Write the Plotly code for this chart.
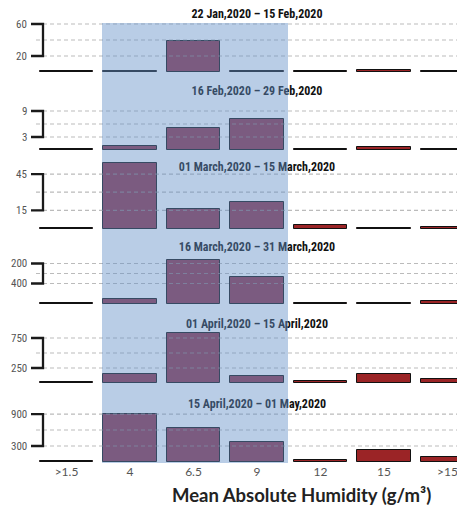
import plotly.graph_objects as go

# ---------------- data ----------------
categories = [">1.5", "4", "6.5", "9", "12", "15", ">15"]
period_titles = [
    "22 Jan,2020 – 15 Feb,2020",
    "16 Feb,2020 – 29 Feb,2020",
    "01 March,2020 – 15 March,2020",
    "16 March,2020 – 31 March,2020",
    "01 April,2020 – 15 April,2020",
    "15 April,2020 – 01 May,2020",
]
cases_p1 = [1, 1, 39, 1, 1, 2, 1]
cases_p2 = [0.25, 0.9, 5.1, 7.2, 0.25, 0.6, 0.25]
cases_p3 = [0.8, 54, 16, 22, 3, 0.8, 1.5]
cases_p4 = [6, 45, 440, 262, 8, 6, 25]
cases_p5 = [12, 145, 840, 110, 40, 145, 65]
cases_p6 = [18, 900, 632, 370, 40, 225, 100]
tick_values = [[20, 60], [3, 9], [15, 45], [200, 400], [250, 750], [300, 900]]
tick_labels = [["20", "60"], ["3", "9"], ["15", "45"], ["400", "200"], ["250", "750"], ["300", "900"]]
x_title = "Mean Absolute Humidity (g/m³)"

series = [cases_p1, cases_p2, cases_p3, cases_p4, cases_p5, cases_p6]

# ---------------- layout geometry (reference pixels) ----------------
WIN_W, WIN_H = 465, 508
OFF = 8                      # default page body margin
W, H = WIN_W - OFF, WIN_H - OFF

col0_px, step_px = 66.5, 63.5
x_lo = -(col0_px - OFF) / step_px
x_hi = (WIN_W - col0_px) / step_px

base_px = [72, 150, 228.5, 303.5, 383, 462]          # pixel row of zero
scale_px = [0.8, 4.333, 1.21, 0.1, 0.06, 0.0533]       # pixels per unit
dom_px = [(9, 78), (80, 156), (158, 234), (236, 310), (312, 389), (391, 463)]
title_px = [15, 92, 168, 248, 325, 405]
shaded_cols = {1, 2, 3}

NARROW = "Liberation Sans Narrow, Roboto Condensed, Arial Narrow, Roboto, sans-serif"

def py(p):
    return 1 - (p - OFF) / H

def px_x(p):
    return (p - OFF) / W

fig = go.Figure()
layout_axes = {}
shapes = []
annotations = []

for i, vals in enumerate(series):
    ax = "y" if i == 0 else f"y{i+1}"
    axkey = "yaxis" if i == 0 else f"yaxis{i+1}"
    p0, s = base_px[i], scale_px[i]
    top, bot = dom_px[i]
    layout_axes[axkey] = dict(
        domain=[py(bot), py(top)],
        range=[(p0 - bot) / s, (p0 - top) / s],
        anchor="x", showgrid=False, zeroline=False, showticklabels=False,
        showline=False, ticks="", fixedrange=True,
    )
    colors = ["rgb(142,49,69)" if j in shaded_cols else "rgb(155,36,38)" for j in range(len(vals))]
    fig.add_trace(go.Bar(
        x=list(range(len(categories))), y=vals, yaxis=ax, xaxis="x",
        width=0.835, marker=dict(color=colors, line=dict(color="#111111", width=1)),
        showlegend=False, hoverinfo="skip",
    ))
    fig.add_trace(go.Scatter(
        x=[3], y=[(p0 - title_px[i]) / s], yaxis=ax, xaxis="x", mode="text",
        text=[period_titles[i]], cliponaxis=False,
        textfont=dict(family=NARROW, size=12, color="#111111", weight="bold"),
        showlegend=False, hoverinfo="skip",
    ))
    lo, hi = tick_values[i]
    for v in [lo, (lo + hi) / 2, hi]:
        shapes.append(dict(
            type="line", xref="paper", yref=ax, x0=px_x(36), x1=1, y0=v, y1=v,
            line=dict(color="rgba(150,150,150,0.65)", width=1.2, dash="4px,3px"),
            layer="above",
        ))
    xl, xr = px_x(31), px_x(43)
    shapes.append(dict(
        type="path", xref="paper", yref=ax,
        path=f"M {xl},{hi} L {xr},{hi} L {xr},{lo} L {xl},{lo}",
        line=dict(color="#1a1a1a", width=2.3), layer="above",
    ))
    for v, t in zip(tick_values[i], tick_labels[i]):
        annotations.append(dict(
            xref="paper", yref=ax, x=px_x(29), y=v, text=t, showarrow=False,
            xanchor="right", yanchor="middle",
            font=dict(family=NARROW, size=11, color="#555555"),
        ))

# shaded overlay
shapes.append(dict(
    type="rect", xref="paper", yref="paper",
    x0=px_x(102), x1=px_x(288), y0=py(463), y1=py(23),
    fillcolor="rgba(100,144,200,0.45)", line=dict(width=0), layer="above",
))

annotations.append(dict(
    xref="paper", yref="paper", x=px_x(301), y=py(495), text=x_title,
    showarrow=False, xanchor="center", yanchor="middle",
    font=dict(family="Lato, Open Sans, sans-serif", size=18.5, color="#222222", weight="bold"),
))

fig.update_layout(
    width=W, height=H,
    margin=dict(l=0, r=0, t=0, b=0),
    paper_bgcolor="white", plot_bgcolor="rgba(0,0,0,0)",
    bargap=0,
    xaxis=dict(
        range=[x_lo, x_hi], anchor="y6", tickvals=list(range(len(categories))),
        ticktext=categories, showgrid=False, zeroline=False, showline=False,
        ticks="", tickfont=dict(family="Lato, Open Sans, sans-serif", size=12, color="#555555"),
        fixedrange=True,
    ),
    shapes=shapes, annotations=annotations,
    **layout_axes,
)

fig.write_html("out.html")
